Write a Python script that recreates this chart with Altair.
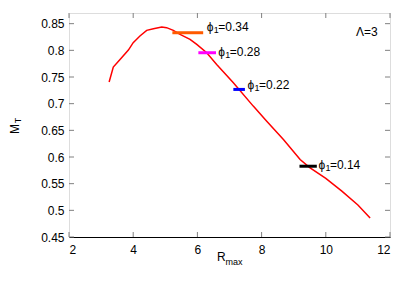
import altair as alt
import pandas as pd

# curve data
r_max = [3.25, 3.38, 3.59, 3.85, 4.0, 4.21, 4.42, 4.63, 4.89, 5.04, 5.25, 5.46,
         5.77, 5.98, 6.29, 6.6, 7.12, 7.74, 8.16, 8.68, 9.2, 9.5, 10.0, 10.5, 11.0, 11.38]
m_t = [0.7405, 0.7686, 0.783, 0.8005, 0.8143, 0.8268, 0.8375, 0.8406, 0.8437, 0.8425,
       0.8375, 0.830, 0.8206, 0.8112, 0.7955, 0.7736, 0.7392, 0.6954, 0.6672, 0.6328,
       0.5953, 0.5800, 0.560, 0.536, 0.510, 0.4857]

# marker segments
seg_phi = ["0.34", "0.28", "0.22", "0.14"]
seg_x1 = [5.22, 6.03, 7.12, 9.18]
seg_x2 = [6.18, 6.58, 7.48, 9.72]
seg_y = [0.833, 0.7955, 0.7267, 0.5827]
seg_color = ["#ff5a00", "#ff00ff", "#0000ff", "#000000"]

# label anchors
lab_x = [6.29, 6.65, 7.56, 9.77]
lab_y = [0.8437, 0.7974, 0.7342, 0.5846]

x_ticks = [2, 4, 6, 8, 10, 12]
y_ticks = [0.45, 0.5, 0.55, 0.6, 0.65, 0.7, 0.75, 0.8, 0.85]

FONT = "Liberation Sans"
W, H = 321, 224
TICK = 5
GRAY = "#808080"

curve_df = pd.DataFrame({"r": r_max, "m": m_t})
seg_df = pd.DataFrame({"phi": seg_phi, "x1": seg_x1, "x2": seg_x2, "y": seg_y,
                       "c": seg_color, "lx": lab_x, "ly": lab_y,
                       "rest": ["=" + p for p in seg_phi]})
xt_df = pd.DataFrame({"t": x_ticks})
yt_df = pd.DataFrame({"t": y_ticks})
lam_df = pd.DataFrame({"x": [11.62], "y": [0.835], "txt": ["Λ=3"]})

xs = alt.Scale(domain=[2, 12], nice=False)
ys = alt.Scale(domain=[0.45, 0.87], nice=False, zero=False)

xaxis = alt.Axis(values=x_ticks, ticks=False, grid=False, title=None, domainColor="black",
                 labelFontSize=12, labelFont=FONT, labelPadding=7, labelColor="black",
                 labelOverlap=False, format="d")
yaxis = alt.Axis(values=y_ticks, ticks=False, grid=False, title=None, domain=False,
                 labelFontSize=12, labelFont=FONT, labelPadding=5, labelColor="black",
                 labelOverlap=False, labelExpr="format(datum.value, '.2~f')")


def X(field):
    return alt.X(field, scale=xs, axis=xaxis)


def Y(field):
    return alt.Y(field, scale=ys, axis=yaxis)


curve = alt.Chart(curve_df).mark_line(color="#ff0000", strokeWidth=1.5).encode(
    x=X("r:Q"), y=Y("m:Q"), order="r:Q",
)

segs = alt.Chart(seg_df).mark_rule(strokeWidth=3).encode(
    x=X("x1:Q"), x2="x2:Q", y=Y("y:Q"),
    color=alt.Color("c:N", scale=None),
)

phi = alt.Chart(seg_df).mark_text(align="left", baseline="middle", fontSize=12, font=FONT,
                                  color="black", text="ϕ").encode(x=X("lx:Q"), y=Y("ly:Q"))
sub1 = alt.Chart(seg_df).mark_text(align="left", baseline="middle", fontSize=9, font=FONT,
                                   color="black", text="1", dx=7, dy=3).encode(
    x=X("lx:Q"), y=Y("ly:Q"))
rest = alt.Chart(seg_df).mark_text(align="left", baseline="middle", fontSize=12, font=FONT,
                                   color="black", dx=11.5).encode(
    x=X("lx:Q"), y=Y("ly:Q"), text="rest:N")

lam = alt.Chart(lam_df).mark_text(align="right", baseline="middle", fontSize=12, font=FONT,
                                  color="black").encode(
    x=X("x:Q"), y=Y("y:Q"), text="txt:N")

xt_bot = alt.Chart(xt_df).mark_rule(color=GRAY).encode(
    x=X("t:Q"), y=alt.value(H), y2=alt.value(H - TICK))
xt_top = alt.Chart(xt_df).mark_rule(color=GRAY).encode(
    x=X("t:Q"), y=alt.value(0), y2=alt.value(TICK))
yt_left = alt.Chart(yt_df).mark_rule(color=GRAY).encode(
    y=Y("t:Q"), x=alt.value(0), x2=alt.value(TICK))
yt_right = alt.Chart(yt_df).mark_rule(color=GRAY).encode(
    y=Y("t:Q"), x=alt.value(W), x2=alt.value(W - TICK))

title_df = pd.DataFrame({"a": [0]})
xt_R = alt.Chart(title_df).mark_text(align="left", baseline="middle", fontSize=12, font=FONT,
                                     color="black", text="R").encode(
    x=alt.value(148), y=alt.value(244))
xt_max = alt.Chart(title_df).mark_text(align="left", baseline="middle", fontSize=9, font=FONT,
                                       color="black", text="max").encode(
    x=alt.value(156.5), y=alt.value(249))
yt_M = alt.Chart(title_df).mark_text(align="center", baseline="middle", fontSize=12, font=FONT,
                                     color="black", text="M", angle=270).encode(
    x=alt.value(-54), y=alt.value(116))
yt_T = alt.Chart(title_df).mark_text(align="center", baseline="middle", fontSize=9, font=FONT,
                                     color="black", text="T", angle=270).encode(
    x=alt.value(-51), y=alt.value(107.5))

chart = alt.layer(
    curve, xt_bot, xt_top, yt_left, yt_right,
    segs, phi, sub1, rest, lam,
    xt_R, xt_max, yt_M, yt_T,
).properties(
    width=W, height=H,
    autosize=alt.AutoSizeParams(type="none"),
    padding={"left": 61, "top": 5, "right": 8, "bottom": 38},
).configure_axis(labelOverlap=False).configure_view(
    stroke=GRAY, strokeWidth=1.5
).configure(background="white")

chart.save("out.html", embed_options={"renderer": "svg", "actions": False})
